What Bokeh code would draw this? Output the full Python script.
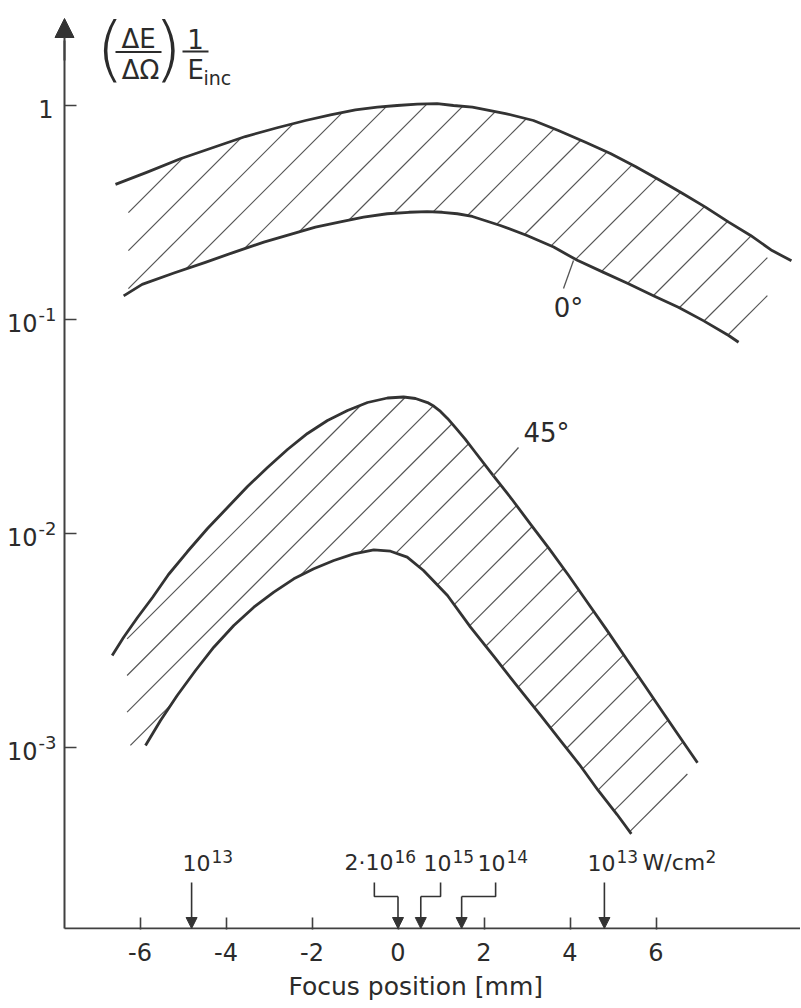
import numpy as np
from bokeh.plotting import figure
from bokeh.models import Range1d, FixedTicker, Label, Arrow, NormalHead, Title
from bokeh.embed import file_html
from bokeh.resources import INLINE

# ---------------- data ----------------
# 0 degree band (upper and lower boundaries)
x_0deg_upper = [-6.57, -5.83, -5.06, -4.28, -3.55, -2.81, -2.15, -1.57, -0.99, -0.48, -0.02, 0.45,
                0.91, 1.29, 1.73, 2.50, 3.15, 3.73, 4.36, 4.94, 5.52, 6.06, 6.61, 7.15, 7.69, 8.20,
                8.70, 9.15]
y_0deg_upper = [0.428, 0.488, 0.564, 0.638, 0.716, 0.787, 0.851, 0.905, 0.955, 0.982, 1.0, 1.014,
                1.02, 1.0, 0.982, 0.917, 0.851, 0.764, 0.674, 0.597, 0.519, 0.451, 0.389, 0.335,
                0.285, 0.247, 0.210, 0.188]
x_0deg_lower = [-6.38, -5.95, -5.21, -4.48, -3.82, -3.12, -2.50, -1.92, -1.34, -0.80, -0.25, 0.25,
                0.68, 1.03, 1.38, 1.73, 2.38, 3.00, 3.62, 4.17, 4.78, 5.36, 5.94, 6.52, 7.10, 7.69,
                7.92]
y_0deg_lower = [0.129, 0.146, 0.165, 0.185, 0.206, 0.230, 0.250, 0.270, 0.286, 0.301, 0.312, 0.317,
                0.319, 0.317, 0.312, 0.303, 0.275, 0.247, 0.218, 0.189, 0.166, 0.147, 0.129, 0.114,
                0.0988, 0.0842, 0.0783]

# 45 degree band
x_45deg_upper = [-6.647, -6.384, -6.058, -5.709, -5.337, -4.895, -4.430, -3.965, -3.500, -3.035,
                 -2.570, -2.105, -1.640, -1.174, -0.709, -0.244, 0.128, 0.407, 0.686, 0.837,
                 0.988, 1.151, 1.337, 1.558, 1.779, 2.198, 2.640, 3.081, 3.523, 3.965, 4.407,
                 4.849, 5.291, 5.733, 6.174, 6.616, 6.965]
y_45deg_upper = [2.691e-3, 3.266e-3, 4.051e-3, 5.022e-3, 6.432e-3, 8.236e-3, 1.055e-2, 1.323e-2,
                 1.658e-2, 2.034e-2, 2.469e-2, 2.934e-2, 3.373e-2, 3.757e-2, 4.094e-2, 4.297e-2,
                 4.344e-2, 4.274e-2, 4.091e-2, 3.930e-2, 3.720e-2, 3.450e-2, 3.124e-2, 2.770e-2,
                 2.423e-2, 1.883e-2, 1.453e-2, 1.107e-2, 8.446e-3, 6.378e-3, 4.761e-3, 3.555e-3,
                 2.636e-3, 1.955e-3, 1.446e-3, 1.072e-3, 8.483e-4]
x_45deg_lower = [-5.872, -5.523, -5.135, -4.709, -4.284, -3.819, -3.353, -2.888, -2.423, -1.958,
                 -1.493, -1.028, -0.563, -0.174, 0.214, 0.593, 1.151, 1.686, 2.244, 2.791, 3.337,
                 3.779, 4.219, 4.656, 5.095, 5.426]
y_45deg_lower = [1.022e-3, 1.337e-3, 1.750e-3, 2.290e-3, 2.942e-3, 3.716e-3, 4.523e-3, 5.318e-3,
                 6.140e-3, 6.840e-3, 7.477e-3, 8.036e-3, 8.389e-3, 8.264e-3, 7.750e-3, 6.716e-3,
                 5.132e-3, 3.649e-3, 2.642e-3, 1.913e-3, 1.396e-3, 1.078e-3, 8.326e-4, 6.297e-4,
                 4.862e-4, 3.951e-4]

# axis ticks
x_ticks = [-6, -4, -2, 0, 2, 4, 6]
x_tick_labels = ["-6", "-4", "-2", "0", "2", "4", "6"]
x_title = "Focus position [mm]"
y_ticks = [1, 0.1, 0.01, 0.001]
y_tick_base = ["1", "10", "10", "10"]
y_tick_exp = ["", "-1", "-2", "-3"]

# intensity markers on the focus axis (W/cm^2)
int_base = ["10", "2\u00b710", "10", "10", "10"]
int_exp = ["13", "16", "15", "14", "13"]
int_pos_mm = [-4.8, 0.0, 0.53, 1.48, 4.8]         # where the arrow points
int_from_mm = [-4.8, -0.55, 0.99, 2.27, 4.8]      # where the arrow starts (bracket)

# ---------------- layout ----------------
FONT = "DejaVu Sans"
INK = "#2b2b2b"
AXC = "#404040"
CURVE = "#333333"
HATCH = "#555555"
W, H = 800, 1008
FRAME_B = 929                    # page y of the frame bottom
SX, SY = 43.0, 214.0             # px per mm, px per decade
X0PX, Y0PX = 397.5, 105.0        # page position of x = 0 mm and y = 1
X_RANGE = (-X0PX / SX, (W - X0PX) / SX)
LY1 = Y0PX / SY
LY0 = (Y0PX - FRAME_B) / SY
AXIS_PX_X = 64                   # page x of the vertical axis
AXIS_PX_Y = 928                  # page y of the horizontal axis


def px2x(px):
    return (px - X0PX) / SX


def py2y(py):
    return 10 ** ((Y0PX - py) / SY)


p = figure(width=W, height=H, output_backend="svg", toolbar_location=None,
           y_axis_type="log", x_range=Range1d(*X_RANGE), y_range=Range1d(10 ** LY0, 10 ** LY1),
           min_border_left=0, min_border_right=0, min_border_top=0,
           min_border_bottom=H - FRAME_B)
p.outline_line_color = None
p.xgrid.visible = False
p.ygrid.visible = False
p.yaxis.visible = False
p.background_fill_color = "white"
p.border_fill_color = "white"

ax = p.xaxis[0]
ax.axis_line_color = None
ax.major_tick_line_color = AXC
ax.major_tick_line_width = 1.6
ax.major_tick_in = 12
ax.major_tick_out = 0
ax.minor_tick_line_color = None
ax.ticker = FixedTicker(ticks=x_ticks)
ax.major_label_overrides = {t: s for t, s in zip(x_ticks, x_tick_labels)}
ax.major_label_text_font = FONT
ax.major_label_text_font_size = "24px"
ax.major_label_text_color = INK
ax.major_label_standoff = 13

# x axis title, centred under x = 0.4 mm as in the reference
p.add_layout(Title(text=x_title, align="left", offset=288, standoff=12,
                   text_font=FONT, text_font_size="25px", text_font_style="normal",
                   text_color=INK), "below")

# axis lines drawn through the scales
x_axis_left = px2x(AXIS_PX_X)
y_axis_val = py2y(AXIS_PX_Y)
p.line([x_axis_left, X_RANGE[1]], [y_axis_val, y_axis_val], line_color=AXC, line_width=2)
p.line([x_axis_left, x_axis_left], [y_axis_val, py2y(40)], line_color=AXC, line_width=2)
p.segment(x0=[x_axis_left] * len(y_ticks), y0=y_ticks,
          x1=[px2x(AXIS_PX_X + 12)] * len(y_ticks), y1=y_ticks, line_color=AXC, line_width=1.6)
p.add_layout(Arrow(end=NormalHead(size=19, fill_color="#333333", line_color="#333333"),
                   x_start=x_axis_left, y_start=py2y(60), x_end=x_axis_left, y_end=py2y(18),
                   line_color=AXC, line_width=2))


def lab(text, px, bottom_py, size, align="left", font=FONT):
    """Label whose glyph bottom lands at page y = bottom_py."""
    p.add_layout(Label(x=px2x(px), y=py2y(bottom_py - 0.4 * size), text=text, text_font=font,
                       text_font_size=f"{size}px", text_align=align,
                       text_baseline="alphabetic", text_color=INK))


# y tick labels (10 with exponent)
for t, b, e in zip(y_ticks, y_tick_base, y_tick_exp):
    ty = Y0PX - np.log10(t) * SY
    if e == "":
        lab(b, 53, ty + 13, 24, align="right")
    else:
        lab(b, 37, ty + 13, 24, align="right")
        lab(e, 38, ty + 2, 18, align="left")

# y axis title (dE/dOmega) 1/E_inc
for txt, cx in (("(", 109.5), (")", 167.5)):
    p.add_layout(Label(x=px2x(cx), y=py2y(47), text=txt, text_font="DejaVu Sans Light, DejaVu Serif",
                       text_font_size="72px", text_align="center", text_baseline="alphabetic",
                       text_color=INK))
lab("\u0394E", 138, 49, 26, align="center")
lab("\u0394\u03a9", 140, 80, 26, align="center")
lab("1", 195, 49, 26, align="center")
lab("E", 187, 80, 26, align="left")
lab("inc", 203, 85, 19, align="left")
p.segment(x0=[px2x(115), px2x(182)], y0=[py2y(51.5), py2y(51)],
          x1=[px2x(161), px2x(208)], y1=[py2y(51.5), py2y(51)], line_color=INK, line_width=2)


# ---------------- hatching ----------------
def hatch(xu, yu, xl, yl, k0, step, n, xcut0, xcut1):
    uu = np.asarray(xu) * SX
    wu = np.log10(yu) * SY
    ul = np.asarray(xl) * SX
    wl = np.log10(yl) * SY
    u = np.linspace(max(xcut0, xu[0]) * SX, min(xcut1, xu[-1]) * SX, 6000)
    top = np.interp(u, uu, wu)
    bot = np.interp(u, ul, wl)
    xs, ys = [], []
    for j in range(n):
        k = k0 + step * j
        w = u - k
        inside = (w <= top) & (w >= bot)
        edges = np.flatnonzero(np.diff(np.concatenate([[0], inside.astype(int), [0]])))
        for a, b in zip(edges[::2], edges[1::2]):
            if b - a < 3:
                continue
            ua, ub = u[a], u[b - 1]
            xs.append([ua / SX, ub / SX])
            ys.append([10 ** ((ua - k) / SY), 10 ** ((ub - k) / SY)])
    return xs, ys


hx, hy = hatch(x_0deg_upper, y_0deg_upper, x_0deg_lower, y_0deg_lower,
               -162.5, 38.0, 20, -6.27, 8.59)
p.multi_line(hx, hy, line_color=HATCH, line_width=1.2)
hx, hy = hatch(x_45deg_upper, y_45deg_upper, x_45deg_lower, y_45deg_lower,
               262.5, 36.6, 20, -6.30, 6.73)
p.multi_line(hx, hy, line_color=HATCH, line_width=1.2)

# boundary curves
for xx, yy in ((x_0deg_upper, y_0deg_upper), (x_0deg_lower, y_0deg_lower),
               (x_45deg_upper, y_45deg_upper), (x_45deg_lower, y_45deg_lower)):
    p.line(xx, yy, line_color=CURVE, line_width=2.8, line_join="round")

# curve labels with leader lines
p.line([px2x(573), px2x(563)], [py2y(260), py2y(288)], line_color=HATCH, line_width=1.3)
lab("0\u00b0", 568, 318, 26, align="center")
p.line([px2x(492), px2x(518)], [py2y(476), py2y(447)], line_color=HATCH, line_width=1.3)
lab("45\u00b0", 546, 443, 26, align="center")

# ---------------- intensity arrows ----------------
y_arrow_top = py2y(882)
y_elbow = py2y(896)
for xf, xp in zip(int_from_mm, int_pos_mm):
    if xf == xp:
        ys0 = y_arrow_top
    else:
        p.line([xf, xf, xp], [y_arrow_top, y_elbow, y_elbow], line_color="#333333", line_width=1.6)
        ys0 = y_elbow
    p.add_layout(Arrow(end=NormalHead(size=11, fill_color="#333333", line_color="#333333"),
                       x_start=xp, y_start=ys0, x_end=xp, y_end=y_axis_val,
                       line_color="#333333", line_width=1.6))

# labels above arrows: right edge of base text in page px
base_right_px = [210, 393, 451, 505, 615]
for b, e, bx in zip(int_base, int_exp, base_right_px):
    lab(b, bx, 871, 22, align="right")
    lab(e, bx + 1, 863, 17, align="left")
lab("W/cm", 642, 871, 22, align="left")
lab("2", 705, 863, 17, align="left")

open("out.html", "w").write(file_html(p, INLINE))
